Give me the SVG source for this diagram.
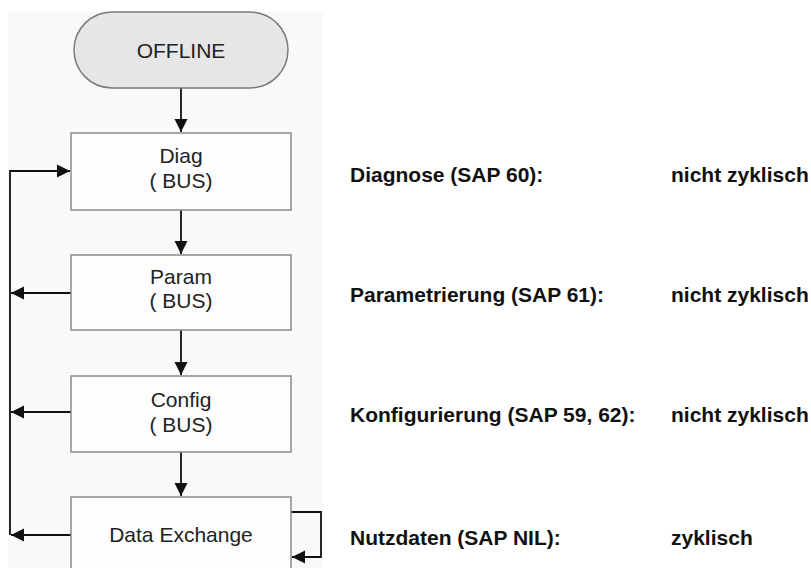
<svg xmlns="http://www.w3.org/2000/svg" width="811" height="568" viewBox="0 0 811 568">
  <style>
    .box { fill: #fdfdfd; stroke: #8a8a8a; stroke-width: 1.5; }
    .pill { fill: #e6e6e6; stroke: #7a7a7a; stroke-width: 1.5; }
    .t { font-family: "Liberation Sans", Arial, sans-serif; font-size: 21px; fill: #222; text-anchor: middle; }
    .lbl { font-family: "Liberation Sans", Arial, sans-serif; font-size: 21px; font-weight: bold; fill: #111; }
    .c { fill: none; stroke: #111; stroke-width: 1.8; }
  </style>
  <defs>
    <marker id="ah" markerUnits="userSpaceOnUse" markerWidth="14" markerHeight="14" viewBox="0 0 14 14" refX="13" refY="7" orient="auto">
      <path d="M0,0.5 L13,7 L0,13.5 Z" fill="#111"/>
    </marker>
  </defs>
  <rect x="0" y="0" width="811" height="568" fill="#ffffff"/>
  <rect x="8" y="12" width="315" height="556" fill="#f9f9f9"/>

  <g id="connectors">
    <line class="c" x1="181" y1="88" x2="181" y2="132" marker-end="url(#ah)"/>
    <line class="c" x1="181" y1="210" x2="181" y2="254" marker-end="url(#ah)"/>
    <line class="c" x1="181" y1="330" x2="181" y2="375" marker-end="url(#ah)"/>
    <line class="c" x1="181" y1="452" x2="181" y2="496" marker-end="url(#ah)"/>
    <polyline class="c" points="10,535 10,171 70,171" marker-end="url(#ah)"/>
    <line class="c" x1="71" y1="293" x2="11" y2="293" marker-end="url(#ah)"/>
    <line class="c" x1="71" y1="412" x2="11" y2="412" marker-end="url(#ah)"/>
    <line class="c" x1="71" y1="535" x2="11" y2="535" marker-end="url(#ah)"/>
    <polyline class="c" points="291,512 321,512 321,557 292,557" marker-end="url(#ah)"/>
  </g>

  <g id="offline">
    <rect class="pill" x="74" y="12" width="214" height="76" rx="38" ry="38"/>
    <text class="t" x="181" y="58">OFFLINE</text>
  </g>
  <g id="diag">
    <rect class="box" x="71" y="133" width="220" height="77"/>
    <text class="t" x="181" y="163">Diag</text>
    <text class="t" x="181" y="188">( BUS)</text>
  </g>
  <g id="param">
    <rect class="box" x="71" y="255" width="220" height="75"/>
    <text class="t" x="181" y="284">Param</text>
    <text class="t" x="181" y="308">( BUS)</text>
  </g>
  <g id="config">
    <rect class="box" x="71" y="376" width="220" height="76"/>
    <text class="t" x="181" y="407">Config</text>
    <text class="t" x="181" y="432">( BUS)</text>
  </g>
  <g id="dataexchange">
    <rect class="box" x="71" y="497" width="220" height="80"/>
    <text class="t" x="181" y="542">Data Exchange</text>
  </g>

  <g id="labels">
    <text class="lbl" x="350" y="182">Diagnose (SAP 60):</text>
    <text class="lbl" x="671" y="182">nicht zyklisch</text>
    <text class="lbl" x="350" y="302">Parametrierung (SAP 61):</text>
    <text class="lbl" x="671" y="302">nicht zyklisch</text>
    <text class="lbl" x="350" y="422">Konfigurierung (SAP 59, 62):</text>
    <text class="lbl" x="671" y="422">nicht zyklisch</text>
    <text class="lbl" x="350" y="545">Nutzdaten (SAP NIL):</text>
    <text class="lbl" x="671" y="545">zyklisch</text>
  </g>
</svg>
